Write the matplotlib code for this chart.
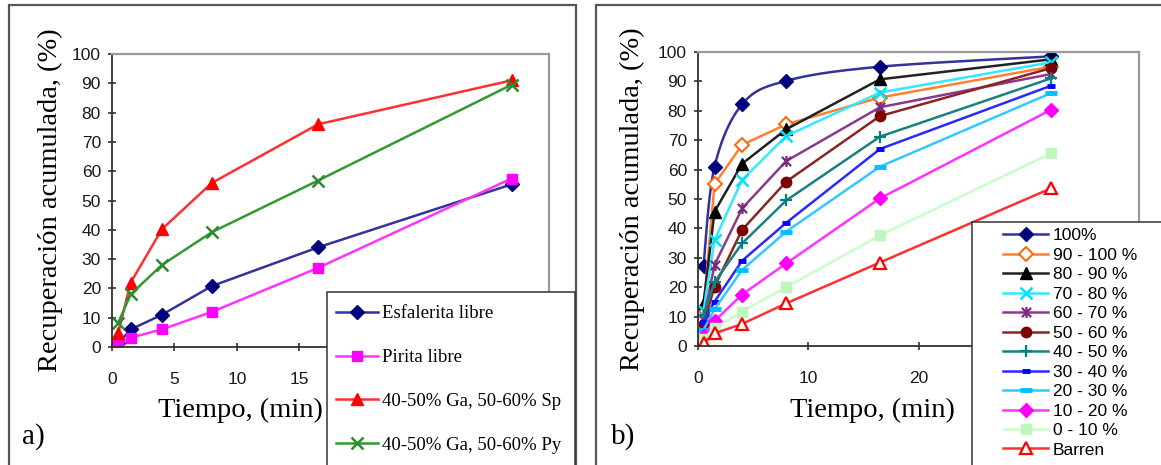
import numpy as np
import matplotlib.pyplot as plt
from matplotlib.patches import Rectangle
from matplotlib.path import Path
from matplotlib.lines import Line2D

# ---- data ----
tiempo = [0.5, 1.5, 4, 8, 16.5, 32]

# panel a)
esfalerita = [1.3, 6, 11, 20.8, 34, 55.5]
pirita = [1.0, 3.2, 6, 12, 27, 57.5]
ga_sp = [4.8, 22, 40.2, 56, 76, 91]
ga_py = [8.3, 18, 28, 39.2, 56.8, 89.5]
labels_a = ["Esfalerita libre", "Pirita libre",
            "40-50% Ga, 50-60% Sp", "40-50% Ga, 50-60% Py"]
# x tick labels that are not hidden by the legend
xtl_a = ["0", "5", "10", "15", "", "", "", ""]

# panel b)
r100 = [27.3, 61, 82.2, 90.2, 95, 98.5]
r90 = [12.5, 55.1, 68.4, 75.4, 84.5, 95]
r80 = [14.5, 45.7, 62, 73.7, 90.7, 97.5]
r70 = [12, 36, 56.5, 71.4, 86.2, 96.5]
r60 = [9, 27.6, 46.8, 62.9, 81.2, 92.5]
r50 = [7.5, 20.2, 39.5, 55.9, 78.2, 94.5]
r40 = [10.5, 21.7, 34.9, 49.5, 71.2, 91]
r30 = [8, 15.1, 29, 41.9, 67, 88.5]
r20 = [5.5, 12.5, 25.9, 38.9, 61, 86]
r10 = [3.5, 8.5, 17.5, 28.1, 50.2, 80.3]
r0 = [2.5, 6, 11.7, 20, 37.6, 65.5]
barren = [1, 4.3, 7.5, 14.5, 28.4, 53.6]
labels_b = ["100%", "90 - 100 %", "80 - 90 %", "70 - 80 %", "60 - 70 %",
            "50 - 60 %", "40 - 50 %", "30 - 40 %", "20 - 30 %", "10 - 20 %",
            "0 - 10 %", "Barren"]
xtl_b = ["0", "10", "20", "", ""]

W, H = 1161, 465
SERIF = "Liberation Serif"
SANS = "Liberation Sans"

# asterisk marker like excel's "star"
star = Path([(-1, -1), (1, 1), (-1, 1), (1, -1), (0, -1.2), (0, 1.2)],
            [Path.MOVETO, Path.LINETO, Path.MOVETO, Path.LINETO, Path.MOVETO, Path.LINETO])


def smooth(x, y, n=30):
    # excel-like smoothed line (catmull-rom bezier)
    p = np.column_stack([x, y]).astype(float)
    pts = []
    for i in range(len(p) - 1):
        p0 = p[i - 1] if i > 0 else p[i]
        p3 = p[i + 2] if i + 2 < len(p) else p[i + 1]
        c1 = p[i] + (p[i + 1] - p0) / 6
        c2 = p[i + 1] - (p3 - p[i]) / 6
        s = np.linspace(0, 1, n)[:, None]
        seg = ((1 - s) ** 3) * p[i] + 3 * ((1 - s) ** 2) * s * c1 + 3 * (1 - s) * s ** 2 * c2 + s ** 3 * p[i + 1]
        pts.append(seg)
    pts = np.vstack(pts)
    return pts[:, 0], pts[:, 1]


def fx(px):
    return px / W


def fy(py):
    return 1 - py / H


def style_axes(ax, xmax, xstep, xtl):
    ax.set_xlim(0, xmax)
    ax.set_ylim(0, 100)
    ax.set_xticks(np.arange(0, xmax + 0.1, xstep), xtl)
    ax.set_yticks(np.arange(0, 101, 10))
    for s in ["top", "right"]:
        ax.spines[s].set_color("#9a9a9a")
        ax.spines[s].set_linewidth(1.6)
    for s in ["left", "bottom"]:
        ax.spines[s].set_color("#303030")
        ax.spines[s].set_linewidth(1.3)
    ax.tick_params(direction="inout", length=6, width=1.2, color="#303030",
                   labelsize=12.5, labelcolor="#1a1a1a")
    ax.tick_params(axis="y", pad=5)
    ax.tick_params(axis="x", pad=15)
    for lab in ax.get_xticklabels() + ax.get_yticklabels():
        lab.set_fontfamily(SANS)
    ax.set_ylabel("Recuperación acumulada, (%)", fontsize=20.5, family=SERIF)


fig = plt.figure(figsize=(W / 100, H / 100), dpi=100)

# outer frames
fig.add_artist(Rectangle((fx(9), fy(475)), fx(567), 470 / H, transform=fig.transFigure,
                         fill=False, ec="#555555", lw=1.6, zorder=1))
fig.add_artist(Rectangle((fx(596), fy(475)), fx(600), 470 / H, transform=fig.transFigure,
                         fill=False, ec="#555555", lw=1.6, zorder=1))

# ---- panel a ----
axa = fig.add_axes([fx(112), fy(347), fx(437), 293 / H])
axa.plot(tiempo, esfalerita, color="#333399", lw=1.8, marker="D", ms=7, mfc="#000080", mec="#000080")
axa.plot(tiempo, pirita, color="#ff33ff", lw=1.8, marker="s", ms=7.5, mfc="#ff00ff", mec="#ff00ff")
axa.plot(tiempo, ga_sp, color="#ff3030", lw=1.8, marker="^", ms=8.5, mfc="#ff0000", mec="#ff0000")
axa.plot(tiempo, ga_py, color="#339933", lw=1.8, marker="x", ms=8, mew=1.8, mec="#2e8b2e")
style_axes(axa, 35, 5, xtl_a)
axa.set_xlabel("Tiempo, (min)", fontsize=20.5, family=SERIF)
axa.xaxis.set_label_coords((240 - 112) / 437, (347 - 410) / 293)
axa.xaxis.label.set_va("center")
axa.yaxis.set_label_coords((63 - 112) / 437, 0.5)
fig.text(fx(33), fy(437), "a)", fontsize=21, family=SERIF, ha="center", va="center")

fig.add_artist(Rectangle((fx(327), fy(475)), fx(248), (475 - 292) / H, transform=fig.transFigure,
                         fc="white", ec="#333333", lw=1.1, zorder=3))
fig.legend(axa.get_lines(), labels_a, loc="upper left", bbox_to_anchor=(fx(336), fy(305)),
           frameon=False, borderpad=0, borderaxespad=0, handlelength=2.25, handletextpad=0.2,
           labelspacing=1.43, prop={"family": SERIF, "size": 13.5})

# ---- panel b ----
axb = fig.add_axes([fx(698), fy(346), fx(441), 294 / H])
sx, sy = smooth(tiempo, r100)
axb.plot(sx, sy, color="#333399", lw=1.8)
axb.plot(tiempo, r100, ls="none", marker="D", ms=7, mfc="#000080", mec="#000080")
axb.plot(tiempo, r90, color="#ff8033", lw=1.8, marker="D", ms=7, mfc="white", mec="#ff6600", mew=1.4)
axb.plot(tiempo, r80, color="#222222", lw=1.8, marker="^", ms=8.5, mfc="black", mec="black")
axb.plot(tiempo, r70, color="#33e8ff", lw=1.8, marker="x", ms=8, mew=1.8, mec="#00e0ff")
axb.plot(tiempo, r60, color="#8b3a8b", lw=1.8, marker=star, ms=8, mew=1.6, mec="#7a2a7a", mfc="none")
axb.plot(tiempo, r50, color="#8b2525", lw=1.8, marker="o", ms=7.5, mfc="#800000", mec="#800000")
axb.plot(tiempo, r40, color="#1a8080", lw=1.8, marker="+", ms=9, mew=1.6, mec="#008080")
axb.plot(tiempo, r30, color="#2a2aff", lw=1.8, marker="_", ms=6, mew=3.5, mec="#0000ff")
axb.plot(tiempo, r20, color="#33c8ff", lw=1.8, marker="_", ms=8, mew=3.5, mec="#00c0ff")
axb.plot(tiempo, r10, color="#ff33ff", lw=1.8, marker="D", ms=7, mfc="#ff00ff", mec="#ff00ff")
axb.plot(tiempo, r0, color="#c8ffc8", lw=1.8, marker="s", ms=7.5, mfc="#c0f5c0", mec="#c0f5c0")
axb.plot(tiempo, barren, color="#ff3030", lw=1.8, marker="^", ms=9, mfc="white", mec="#ff0000", mew=1.6)
style_axes(axb, 40, 10, xtl_b)
axb.set_xlabel("Tiempo, (min)", fontsize=20.5, family=SERIF)
axb.xaxis.set_label_coords((872 - 698) / 441, (346 - 410) / 294)
axb.xaxis.label.set_va("center")
axb.yaxis.set_label_coords((645 - 698) / 441, 0.5)
fig.text(fx(623), fy(437), "b)", fontsize=21, family=SERIF, ha="center", va="center")

# legend handles for b (100% shown as marker on line)
lines_b = axb.get_lines()
h100 = Line2D([], [], color="#333399", lw=1.8, marker="D", ms=7, mfc="#000080", mec="#000080")
handles_b = [h100] + list(lines_b[2:])
fig.add_artist(Rectangle((fx(972), fy(475)), fx(250), (475 - 222) / H, transform=fig.transFigure,
                         fc="white", ec="#333333", lw=1.1, zorder=3))
fig.legend(handles_b, labels_b, loc="upper left", bbox_to_anchor=(fx(1003), fy(228)),
           frameon=False, borderpad=0, borderaxespad=0, handlelength=2.6, handletextpad=0.27,
           labelspacing=0.25, prop={"family": SANS, "size": 12.5})

fig.savefig("out.png", dpi=100)
